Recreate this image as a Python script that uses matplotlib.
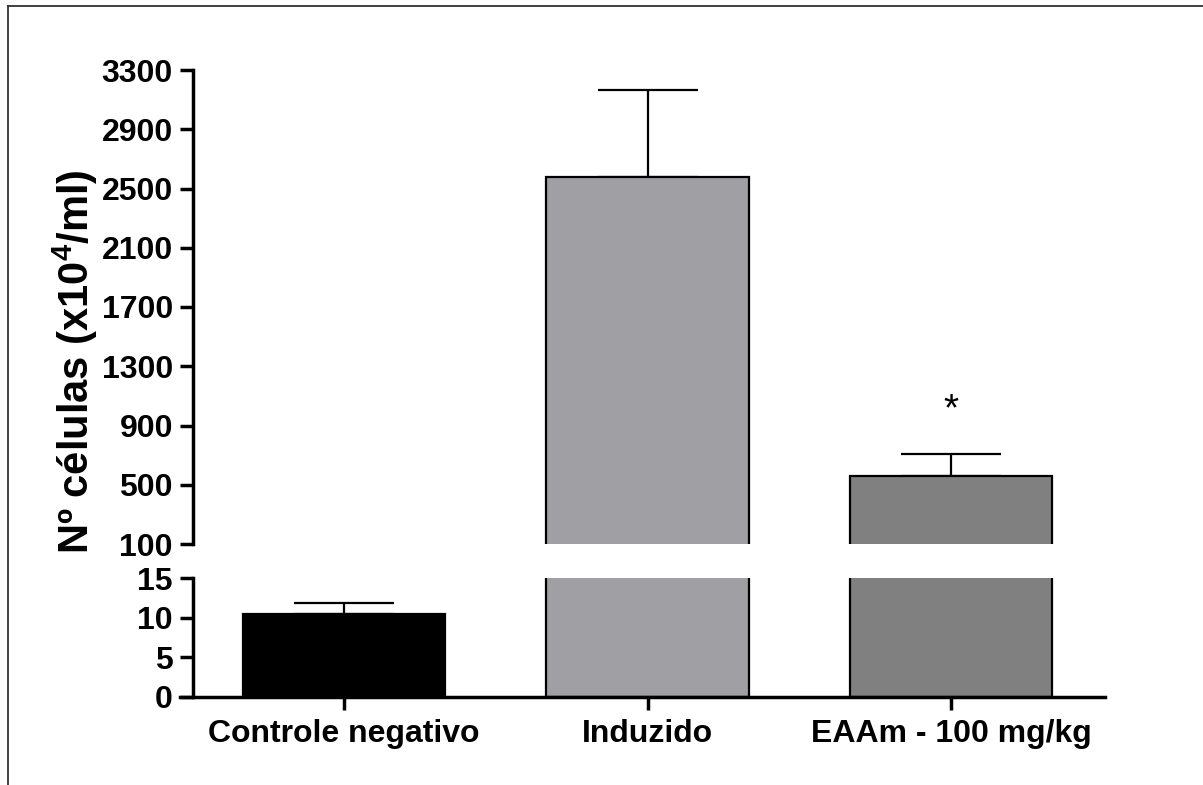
import matplotlib
matplotlib.use("Agg")
import matplotlib.pyplot as plt
from matplotlib.lines import Line2D

plt.rcParams['font.family'] = ['Liberation Sans', 'DejaVu Sans']
plt.rcParams['font.weight'] = 'bold'
plt.rcParams['mathtext.fontset'] = 'custom'
plt.rcParams['mathtext.rm'] = 'Liberation Sans:bold'
plt.rcParams['mathtext.bf'] = 'Liberation Sans:bold'
plt.rcParams['mathtext.default'] = 'bf'

categories = ["Controle negativo", "Induzido", "EAAm - 100 mg/kg"]
means = [10.5, 2580, 560]
errors = [1.3, 585, 145]
colors = ["#000000", "#a09fa3", "#808080"]
upper_ticks = [100, 500, 900, 1300, 1700, 2100, 2500, 2900, 3300]
lower_ticks = [0, 5, 10, 15]
significance = ["", "", "*"]

W, H = 1203, 785
fig = plt.figure(figsize=(W / 100, H / 100), dpi=100)

left = 180 / W
width = (1105 - 180) / W
ax_top = fig.add_axes([left, 1 - 544 / H, width, (544 - 70) / H])
ax_bot = fig.add_axes([left, 1 - 697 / H, width, (697 - 578) / H])

x = list(range(len(categories)))
xlim = (-0.54, 2.507)
spine_x = -0.497
lw_spine = 2.5

for ax in (ax_top, ax_bot):
    ax.bar(x, means, width=0.666, color=colors, edgecolor="black", linewidth=1.6, zorder=2)
    for xi, m, e in zip(x, means, errors):
        ax.errorbar([xi], [m], yerr=[[0], [e]], fmt="none", ecolor="black",
                    elinewidth=1.6, capsize=36, capthick=1.6, zorder=1)
    ax.set_xlim(*xlim)
    ax.spines['top'].set_visible(False)
    ax.spines['right'].set_visible(False)
    ax.spines['left'].set_position(('data', spine_x))
    ax.spines['left'].set_linewidth(lw_spine)
    ax.spines['bottom'].set_linewidth(lw_spine)
    ax.tick_params(axis='y', direction='out', length=9.5, width=lw_spine, pad=5, labelsize=23)
    ax.patch.set_visible(False)

ax_top.set_ylim(upper_ticks[0], upper_ticks[-1])
ax_top.set_yticks(upper_ticks)
ax_top.spines['bottom'].set_visible(False)
ax_top.tick_params(axis='x', bottom=False, labelbottom=False)
for xi, s, m, e in zip(x, significance, means, errors):
    if s:
        ax_top.text(xi, 1000, s, ha='center', va='center', fontsize=28, fontweight='normal')

ax_bot.set_ylim(lower_ticks[0], lower_ticks[-1])
ax_bot.set_yticks(lower_ticks)
ax_bot.set_xticks(x)
ax_bot.set_xticklabels(categories)
ax_bot.tick_params(axis='x', direction='out', length=9, width=lw_spine, pad=7, labelsize=23)

for lab in ax_top.get_yticklabels() + ax_bot.get_yticklabels() + ax_bot.get_xticklabels():
    lab.set_fontweight('bold')

fig.text(75 / W, 1 - 362 / H, "Nº células (x10$^{4}$/ml)", rotation=90,
         ha='center', va='center', fontsize=30, fontweight='bold')

# outer frame (top and left edges)
fig.add_artist(Line2D([8 / W, 1.0], [1 - 6 / H, 1 - 6 / H], color="#333333", lw=1.3))
fig.add_artist(Line2D([8 / W, 8 / W], [1 - 6 / H, 0.0], color="#333333", lw=1.3))

fig.savefig("out.png", dpi=100)
